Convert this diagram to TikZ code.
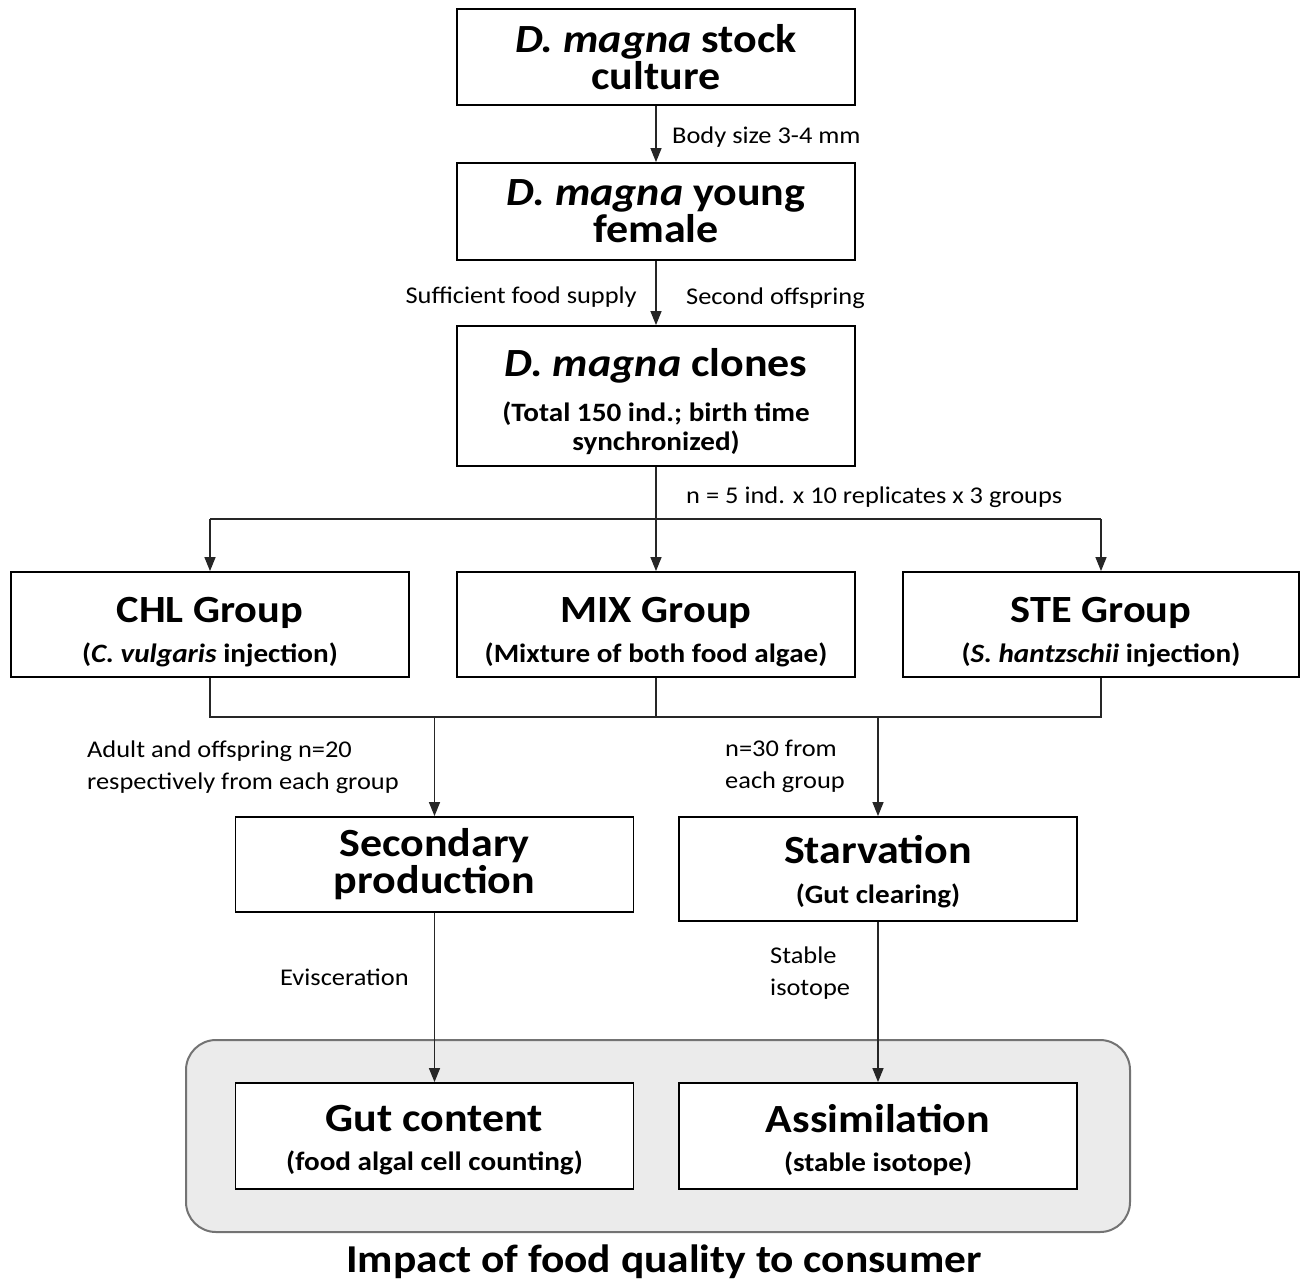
\documentclass[tikz,border=0pt]{standalone}
\usepackage{fontspec}
\setmainfont{Carlito}[FakeStretch=1.1]
\usetikzlibrary{arrows.meta}
\newcommand\bigT{\fontsize{40}{37}\selectfont\bfseries}
\newcommand\grpT{\fontsize{38.5}{37}\selectfont\bfseries}
\newcommand\subT{\fontsize{26.5}{29}\selectfont\bfseries}
\newcommand\lblT{\fontsize{24}{31.5}\selectfont}
\begin{document}
\begin{tikzpicture}[x=1pt,y=-1pt,
  box/.style={draw=black,line width=1.8pt,fill=white,minimum width=398pt,
    inner sep=0pt,align=center},
  tx/.style={inner sep=0pt,align=center},
  conn/.style={line width=1.3pt,draw=black!85},
  arr/.style={conn,-{Triangle[length=14pt,width=11pt]}},
  lbl/.style={font=\lblT,inner sep=0pt,align=left},
  group/.style={draw=black!55,line width=2pt,fill=black!8,rounded corners=30pt}]
\useasboundingbox (0,0) rectangle (1301,1282);
% background group
\draw[group] (186,1040) rectangle (1130,1232);
% boxes
\node[box,minimum height=96pt,font=\bigT] (stock) at (656,57) {\textit{D. magna} stock\\culture};
\node[box,minimum height=97pt,font=\bigT] (young) at (656,211.5) {\textit{D. magna} young\\female};
\node[box,minimum height=140pt,label={[tx,name=clonesT,font=\bigT,yshift=-6pt]center:\textit{D. magna} clones\\[8pt]\subT (Total 150 ind.; birth time\\[-8pt]\subT synchronized)}] (clones) at (656,396) {};
\node[box,minimum height=105pt,label={[tx,name=chlT,font=\grpT,yshift=-8pt]center:CHL Group\\[3pt]\subT (\textit{C. vulgaris} injection)}] (chl) at (210,624.5) {};
\node[box,minimum height=105pt,label={[tx,name=mixT,font=\grpT,yshift=-8pt]center:MIX Group\\[3pt]\subT (Mixture of both food algae)}] (mix) at (656,624.5) {};
\node[box,minimum height=105pt,minimum width=396pt,label={[tx,name=steT,font=\grpT,yshift=-8pt]center:STE Group\\[3pt]\subT (\textit{S. hantzschii} injection)}] (ste) at (1101,624.5) {};
\node[box,minimum height=95pt,font=\bigT] (sec) at (434.5,864.5) {Secondary\\production};
\node[box,minimum height=104pt,label={[tx,name=starvT,font=\bigT,yshift=-3pt]center:Starvation\\[3pt]\subT (Gut clearing)}] (starv) at (878,869) {};
\node[box,minimum height=106pt,label={[tx,name=gutT,font=\bigT,yshift=-4pt]center:Gut content\\[2pt]\subT (food algal cell counting)}] (gut) at (434.5,1136) {};
\node[box,minimum height=106pt,label={[tx,name=assimT,font=\bigT,yshift=-4pt]center:Assimilation\\[2pt]\subT (stable isotope)}] (assim) at (878,1136) {};
\node[font=\fontsize{39.5}{40}\selectfont\bfseries,inner sep=0pt,anchor=base] (impact) at (664,1272) {Impact of food quality to consumer};
% connectors
\draw[arr] (stock) -- (young);
\draw[arr] (young) -- (clones);
\draw[arr] (clones) -- (mix);
\coordinate (split) at (656,519);
\coordinate (merge) at (656,717);
\draw[conn] (chl.north |- split) -- (ste.north |- split);
\draw[arr] (chl.north |- split) -- (chl.north);
\draw[arr] (ste.north |- split) -- (ste.north);
\draw[conn] (chl.south) -- (chl.south |- merge) -- (ste.south |- merge) -- (ste.south);
\draw[conn] (mix.south) -- (merge);
\draw[arr] (sec.north |- merge) -- (sec.north);
\draw[arr] (starv.north |- merge) -- (starv.north);
\draw[arr] (sec) -- (gut);
\draw[arr] (starv) -- (assim);
% labels
\node[lbl,anchor=base west] (l1) at (672,143) {Body size 3-4 mm};
\node[lbl,anchor=base east] (l2) at (637,303) {Sufficient food supply};
\node[lbl,anchor=base west] (l3) at (686,304) {Second offspring};
\node[lbl,anchor=base west] (l4) at (686,503) {n = 5 ind. x 10 replicates x 3 groups};
\node[lbl,anchor=base west] (l5) at (87,789) {Adult and offspring n=20\\respectively from each group};
\node[lbl,anchor=base west] (l6) at (725,788) {n=30 from\\each group};
\node[lbl,anchor=base west] (l7) at (280,985) {Evisceration};
\node[lbl,anchor=base west] (l8) at (770,995) {Stable\\isotope};
\end{tikzpicture}
\end{document}
